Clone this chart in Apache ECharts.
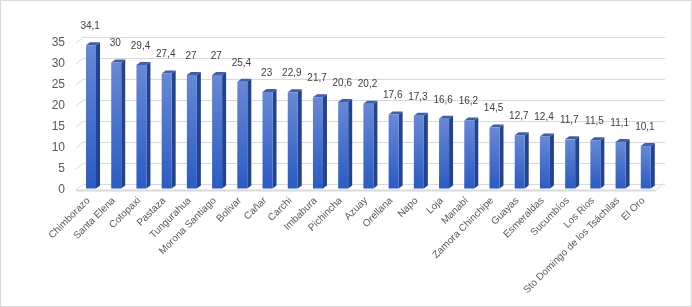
<!DOCTYPE html>
<html>
<head>
<meta charset="utf-8">
<script src="https://cdn.jsdelivr.net/npm/echarts@6/dist/echarts.min.js"></script>
<style>
  html, body { margin: 0; padding: 0; background: #fff; }
  #chart { width: 690px; height: 305px; border: 1px solid #d9d9d9; }
</style>
</head>
<body>
<div id="chart"></div>
<script>
var categories = ['Chimborazo', 'Santa Elena', 'Cotopaxi', 'Pastaza', 'Tungurahua', 'Morona Santiago',
    'Bolivar', 'Cañar', 'Carchi', 'Imbabura', 'Pichincha', 'Azuay', 'Orellana', 'Napo', 'Loja',
    'Manabí', 'Zamora Chinchipe', 'Guayas', 'Esmeraldas', 'Sucumbíos', 'Los Rios',
    'Sto Domingo de los Tsáchilas', 'El Oro'];
var values = [34.1, 30, 29.4, 27.4, 27, 27, 25.4, 23, 22.9, 21.7, 20.6, 20.2, 17.6, 17.3, 16.6,
    16.2, 14.5, 12.7, 12.4, 11.7, 11.5, 11.1, 10.1];
var yTicks = [0, 5, 10, 15, 20, 25, 30, 35];

// desplazamiento de profundidad (pared del fondo respecto al frente)
var wallDx = 8, wallDy = 6.5;

var chart = echarts.init(document.getElementById('chart'));

function fmt(v) {
    return String(v).replace('.', ',');
}

// lineas inclinadas de la pared lateral y borde del piso
function renderWall(params, api) {
    var v = api.value(1);
    var band = api.size([1, 0])[0];
    var p = api.coord([0, v]);
    var left = p[0] - band / 2;
    var children = [{
        type: 'line',
        shape: { x1: left, y1: p[1], x2: left + wallDx, y2: p[1] - wallDy },
        style: { stroke: '#d9d9d9', lineWidth: 1 }
    }];
    if (v === 0) {
        var last = api.coord([categories.length - 1, 0]);
        var right = last[0] + band / 2;
        children.push({
            type: 'line',
            shape: { x1: left, y1: p[1] + 0.5, x2: right, y2: p[1] + 0.5 },
            style: { stroke: '#d9d9d9', lineWidth: 2 }
        });
        children.push({
            type: 'line',
            shape: { x1: right, y1: p[1], x2: right + wallDx, y2: p[1] - wallDy },
            style: { stroke: '#d9d9d9', lineWidth: 1 }
        });
    }
    return { type: 'group', children: children, silent: true };
}

// columnas 3D
function renderBar(params, api) {
    var idx = api.value(0);
    var v = api.value(1);
    var top = api.coord([idx, v]);
    var base = api.coord([idx, 0]);
    var w = 10, dx = 4, dy = 3, ox = 2.4, oy = -1.5;
    var x0 = top[0] - w / 2 + ox;
    var x1 = x0 + w;
    var yt = top[1] + oy;
    var yb = base[1] + oy;
    return {
        type: 'group',
        children: [
            {
                type: 'polygon',
                shape: { points: [[x1, yt], [x1 + dx, yt - dy], [x1 + dx, yb - dy], [x1, yb]] },
                style: { fill: '#22438f' }
            },
            {
                type: 'polygon',
                shape: { points: [[x0, yt], [x1, yt], [x1 + dx, yt - dy], [x0 + dx, yt - dy]] },
                style: { fill: '#3d5fae' }
            },
            {
                type: 'rect',
                shape: { x: x0, y: yt, width: w, height: yb - yt },
                style: {
                    fill: new echarts.graphic.LinearGradient(0, 0, 0, 1, [
                        { offset: 0, color: '#6888d6' },
                        { offset: 1, color: '#2b5bc4' }
                    ])
                }
            },
            {
                type: 'text',
                x: top[0] + 1.5,
                y: yt - 19,
                style: {
                    text: fmt(v),
                    fill: '#404040',
                    font: '10px "Liberation Sans", sans-serif',
                    align: 'center',
                    verticalAlign: 'middle'
                }
            }
        ]
    };
}

function getOption() {
    return {
        animation: false,
        grid: [
            { left: 83, top: 36, width: 581, height: 147 },
            { left: 75, top: 42, width: 580, height: 147 }
        ],
        xAxis: [
            {
                gridIndex: 0,
                type: 'category',
                data: categories,
                show: false
            },
            {
                gridIndex: 1,
                type: 'category',
                data: categories,
                axisLine: { show: false },
                axisTick: { show: false },
                axisLabel: {
                    interval: 0,
                    rotate: 45,
                    margin: 9,
                    color: '#595959',
                    fontSize: 10,
                    fontFamily: 'Liberation Sans, sans-serif'
                }
            }
        ],
        yAxis: [
            {
                gridIndex: 0,
                type: 'value',
                min: 0,
                max: 35,
                interval: 5,
                axisLabel: { show: false },
                axisLine: { show: false },
                axisTick: { show: false },
                splitLine: { lineStyle: { color: '#d9d9d9', width: 1 } }
            },
            {
                gridIndex: 1,
                type: 'value',
                min: 0,
                max: 35,
                interval: 5,
                axisLine: { show: false },
                axisTick: { show: false },
                splitLine: { show: false },
                axisLabel: {
                    margin: 11,
                    color: '#595959',
                    fontSize: 12,
                    fontFamily: 'Liberation Sans, sans-serif'
                }
            }
        ],
        series: [
            {
                type: 'custom',
                xAxisIndex: 1,
                yAxisIndex: 1,
                renderItem: renderWall,
                data: yTicks.map(function (t) { return [0, t]; }),
                z: 1
            },
            {
                type: 'custom',
                xAxisIndex: 1,
                yAxisIndex: 1,
                renderItem: renderBar,
                data: values.map(function (v, i) { return [i, v]; }),
                z: 5
            }
        ]
    };
}

chart.setOption(getOption());
</script>
</body>
</html>
